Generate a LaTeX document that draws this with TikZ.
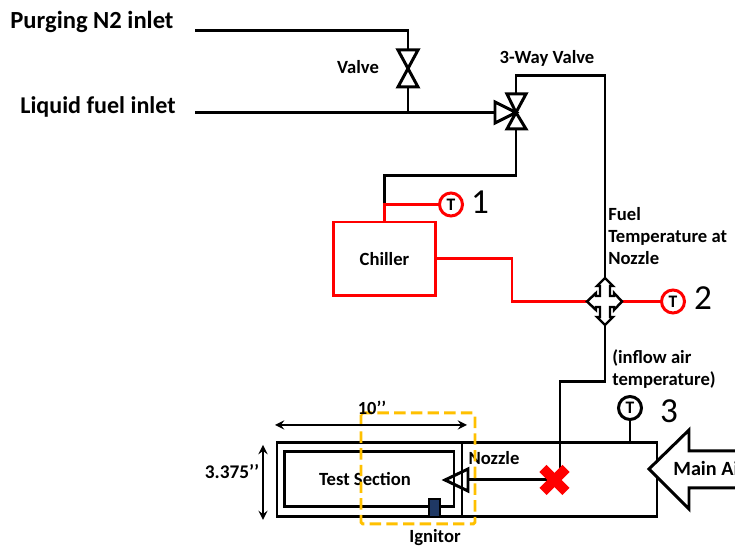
\documentclass[tikz,border=0pt]{standalone}
\usepackage{fontspec}
\setmainfont{Carlito}
\definecolor{cutyellow}{HTML}{FFC000}
\definecolor{ignitorblue}{HTML}{1F3864}
\tikzset{
    pipe/.style={black,line width=1.7pt},
    redpipe/.style={red,line width=1.7pt},
    symbol/.style={black,line width=1.7pt,fill=white,line join=miter},
    sensor/.style={draw,circle,line width=1.7pt,fill=white,minimum size=0.46cm,inner sep=0pt,font=\bfseries\fontsize{10}{12}\selectfont},
    sensornum/.style={font=\fontsize{20}{24}\selectfont},
    lbl/.style={font=\bfseries\fontsize{10.6}{12.5}\selectfont,inner sep=0pt},
    biglbl/.style={font=\bfseries\fontsize{14}{17}\selectfont,inner sep=0pt},
    dim/.style={black,line width=1.3pt,<->,>=stealth}
}
\begin{document}
\begin{tikzpicture}[x=0.02cm,y=-0.02cm]
    \useasboundingbox (0,0) rectangle (735,546);

    \node[biglbl,anchor=west] (purging) at (10,21.5) {Purging N2 inlet};
    \node[biglbl,anchor=west,font=\bfseries\fontsize{13.7}{17}\selectfont] (liquid) at (20,106.5) {Liquid fuel inlet};
    \node[lbl] (valvelbl) at (358,67.5) {Valve};
    \node[lbl] (threelbl) at (547,58.5) {3-Way Valve};
    \node[lbl,anchor=north west,align=left] (fuellbl) at (608,207)
        {Fuel\\Temperature at\\Nozzle};
    \node[lbl,anchor=north west,align=left] (inflowlbl) at (612,349)
        {(inflow air\\temperature)};

    \coordinate (purgestart) at (195,31);
    \coordinate (liquidstart) at (195,112.5);
    \coordinate (valvetop) at (408,50);
    \coordinate (valvebot) at (408,87);
    \coordinate (tee) at (408,112.5);
    \coordinate (wayleft) at (495,112.5);
    \coordinate (waymid) at (516,112.5);
    \coordinate (waytop) at (516,94);
    \coordinate (waybot) at (516,129);
    \coordinate (crosstop) at (605,278);
    \coordinate (crossbot) at (605,325);
    \coordinate (crossleft) at (587,301.5);
    \coordinate (crossright) at (622,301.5);

    \node[draw=red,line width=1.7pt,minimum width=2.06cm,minimum height=1.48cm,
        inner sep=0pt] (chiller) at (384.5,259) {};
    \node[lbl] at (chiller.center) {Chiller};

    \node[sensor,draw=red] (tone) at (451,204.5) {T};
    \node[sensor,draw=red] (ttwo) at (673,301.5) {T};
    \node[sensor] (tthree) at (630,408) {T};
    \node[sensornum] (numone) at (480,202) {1};
    \node[sensornum] (numtwo) at (703,298) {2};
    \node[sensornum] (numthree) at (669,411) {3};

    \draw[pipe] (purgestart) -| (valvetop);
    \draw[pipe] (liquidstart) -- (wayleft);
    \draw[pipe] (valvebot) -- (tee);
    \draw[pipe] (waytop) |- (605,76) -- (crosstop);
    \draw[pipe] (waybot) |- (384.5,176) -- (384.5,204.5);
    \draw[redpipe] (tone.west) -| (chiller.north);
    \draw[redpipe] (chiller.east) -| (512,301.5) -- (crossleft);
    \draw[redpipe] (crossright) -- (ttwo.west);

    \draw[symbol] (398,50) -- (418,50) -- (398,87) -- (418,87) -- cycle;
    \draw[symbol] (waymid) -- (495,102) -- (495,123) -- cycle;
    \draw[symbol] (waymid) -- (507,94) -- (526,94) -- cycle;
    \draw[symbol] (waymid) -- (507,129) -- (526,129) -- cycle;

    \draw[symbol,line width=1.4pt] (crosstop) -- (613,286) -- (610,286) -- (610,296)
        -- (614,296) -- (614,293) -- (crossright) -- (614,310) -- (614,307) -- (610,307)
        -- (610,317) -- (613,317) -- (crossbot) -- (597,317) -- (600,317) -- (600,307)
        -- (596,307) -- (596,310) -- (crossleft) -- (596,293) -- (596,296) -- (600,296)
        -- (600,286) -- (597,286) -- cycle;

    \coordinate (stationtop) at (630,443);
    \coordinate (xmark) at (554.5,480);
    \coordinate (nozzletip) at (445,480);
    \coordinate (nozzleback) at (468,480);

    \draw[pipe] (crossbot) |- (560,382) -- (560,472);
    \draw[pipe] (tthree.south) -- (stationtop);

    \draw[pipe] (277,443) rectangle (657,517);
    \draw[pipe] (462,443) -- (462,517);
    \draw[pipe] (284.5,452) rectangle (454,507);
    \node[lbl] (testlbl) at (365,479) {Test Section};
    \node[lbl] (nozzlelbl) at (494,458) {Nozzle};

    \draw[pipe] (nozzleback) -- (xmark);
    \draw[symbol,fill=none] (nozzletip) -- (468,469) -- (468,491) -- cycle;

    \draw[black,line width=1.2pt,fill=ignitorblue] (429,499) rectangle (440,517);
    \node[lbl] (ignitorlbl) at (435,538) {Ignitor};

    \draw[red,line width=0.2cm] (543,468.5) -- (566,491.5);
    \draw[red,line width=0.2cm] (566,468.5) -- (543,491.5);

    \draw[cutyellow,line width=1.7pt,dash pattern=on 6.5pt off 3pt,rounded corners=1pt]
        (361,413) rectangle (475,524);
    \node[font=\bfseries\fontsize{10.5}{12}\selectfont,inner sep=0pt] (lengthlbl) at (372,408) {10’’};
    \node[font=\bfseries\fontsize{11}{13}\selectfont,inner sep=0pt] (heightlbl) at (232,472) {3.375’’};
    \draw[dim] (275,425) -- (467,425);
    \draw[dim] (263,445) -- (263,520);

    \draw[symbol,line width=1.7pt] (760,451) -- (689,451) -- (689,430) -- (649,469)
        -- (689,509) -- (689,488) -- (760,488);
    \node[font=\bfseries\fontsize{11.5}{14}\selectfont,inner sep=0pt,anchor=west] (mainair) at (673,468) {Main Air};
\end{tikzpicture}
\end{document}
